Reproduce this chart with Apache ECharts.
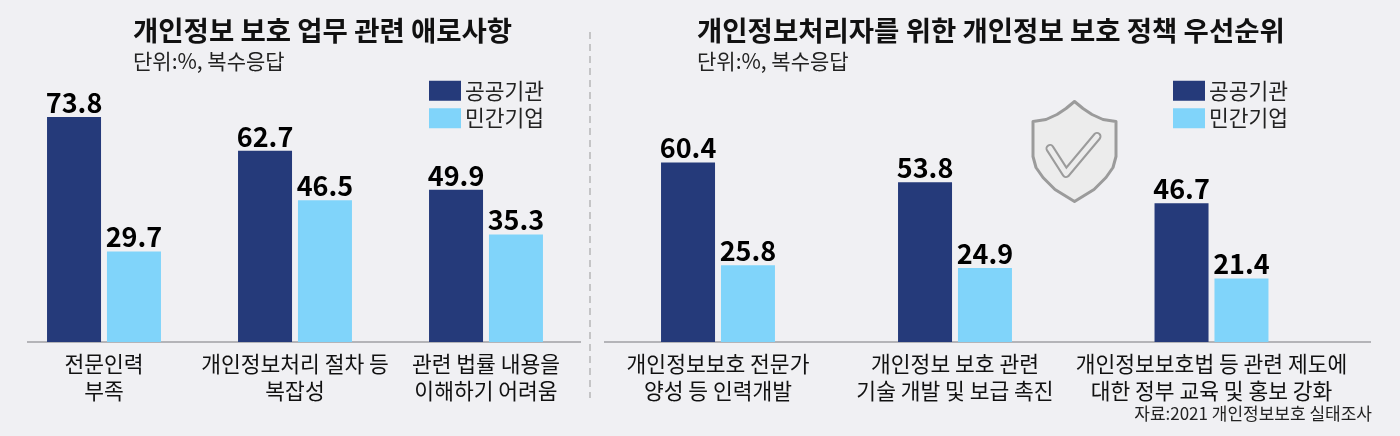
<!DOCTYPE html>
<html>
<head>
<meta charset="utf-8">
<script src="https://cdn.jsdelivr.net/npm/echarts@6/dist/echarts.min.js"></script>
<style>
html,body{margin:0;padding:0;background:#f0f0f3}
#chart{width:1400px;height:436px}
</style>
</head>
<body>
<div id="chart"></div>
<script>
var seriesNames = ['공공기관', '민간기업'];

var leftTitle = '개인정보 보호 업무 관련 애로사항';
var leftCategories = ['전문인력\n부족', '개인정보처리 절차 등\n복잡성', '관련 법률 내용을\n이해하기 어려움'];
var leftPublic = [73.8, 62.7, 49.9];
var leftPrivate = [29.7, 46.5, 35.3];

var rightTitle = '개인정보처리자를 위한 개인정보 보호 정책 우선순위';
var rightCategories = ['개인정보보호 전문가\n양성 등 인력개발', '개인정보 보호 관련\n기술 개발 및 보급 촉진', '개인정보보호법 등 관련 제도에\n대한 정부 교육 및 홍보 강화'];
var rightPublic = [60.4, 53.8, 46.7];
var rightPrivate = [25.8, 24.9, 21.4];

var unitText = '단위:%, 복수응답';
var sourceText = '자료:2021 개인정보보호 실태조사';

var FONT = '"Noto Sans CJK KR", sans-serif';
var colors = ['#253a7a', '#80d4fa'];
var baseY = 342, groupW = 190;

var grids = [], xAxes = [], yAxes = [], series = [];

function addGroup(center, category, a, b, yMax) {
  var i = grids.length;
  grids.push({left: center - groupW / 2, width: groupW, top: 42, height: baseY - 42});
  xAxes.push({
    type: 'category', gridIndex: i, data: [category],
    axisLine: {show: false}, axisTick: {show: false},
    axisLabel: {interval: 0, color: '#111', fontFamily: FONT, fontSize: 21.5, lineHeight: 27, margin: 8}
  });
  yAxes.push({type: 'value', gridIndex: i, min: 0, max: yMax, show: false, splitLine: {show: false}});
  [a, b].forEach(function (v, k) {
    series.push({
      name: seriesNames[k], type: 'bar', xAxisIndex: i, yAxisIndex: i,
      data: [v], barWidth: 54, barGap: '11%', itemStyle: {color: colors[k]},
      label: {show: true, position: 'top', distance: 1, color: '#000', fontFamily: FONT, fontSize: 27, fontWeight: 'bold', letterSpacing: -2, formatter: function (p) { return p.value.toFixed(1); }}
    });
  });
}

// 왼쪽은 간격이 일정, 오른쪽은 원본처럼 간격이 다름
var leftCenters = [104, 295, 486];
var rightCenters = [718, 955, 1211.5];
leftCategories.forEach(function (c, i) { addGroup(leftCenters[i], c, leftPublic[i], leftPrivate[i], 98.4); });
rightCategories.forEach(function (c, i) { addGroup(rightCenters[i], c, rightPublic[i], rightPrivate[i], 101); });

function legendAt(x) {
  return {
    data: seriesNames, left: x, top: 80, padding: 0, orient: 'vertical', icon: 'rect',
    itemWidth: 32, itemHeight: 20, itemGap: 6, selectedMode: false,
    textStyle: {color: '#222', fontFamily: FONT, fontSize: 21.5, lineHeight: 20, padding: [0, 0, 0, -1]}
  };
}

var titleStyle = {color: '#111', fontFamily: FONT, fontSize: 27.5, fontWeight: 'bold'};
var subStyle = {color: '#222', fontFamily: FONT, fontSize: 21, fontWeight: 'normal'};

var shieldPoints = [[41.5, 0], [33, 7], [24, 13], [13, 18], [0, 20], [0, 55], [3, 66], [10, 76], [22, 88], [41.5, 100],
  [61, 88], [73, 76], [80, 66], [83, 55], [83, 20], [70, 18], [59, 13], [50, 7]];
var checkPoints = [[17, 47], [33, 72], [64, 35]];

var option = {
  backgroundColor: '#f0f0f3',
  animation: false,
  title: [
    {text: leftTitle, left: 133, top: 17, padding: 0, textStyle: titleStyle},
    {text: unitText, left: 133, top: 51, padding: 0, textStyle: subStyle},
    {text: rightTitle, left: 697, top: 17, padding: 0, textStyle: titleStyle},
    {text: unitText, left: 697, top: 51, padding: 0, textStyle: subStyle},
    {text: sourceText, right: 28, top: 405, padding: 0, textStyle: {color: '#222', fontFamily: FONT, fontSize: 17, fontWeight: 'normal'}}
  ],
  legend: [legendAt(429), legendAt(1173)],
  grid: grids, xAxis: xAxes, yAxis: yAxes, series: series,
  graphic: [
    {type: 'line', shape: {x1: 27, y1: baseY, x2: 581, y2: baseY}, style: {stroke: '#b4b4b8', lineWidth: 2}},
    {type: 'line', shape: {x1: 604, y1: baseY, x2: 1371, y2: baseY}, style: {stroke: '#b4b4b8', lineWidth: 2}},
    {type: 'line', shape: {x1: 590, y1: 32, x2: 590, y2: 398}, style: {stroke: '#999', lineWidth: 1, lineDash: [7, 5]}},
    // 방패 아이콘
    {type: 'group', x: 1033, y: 101.5, children: [
      {type: 'polygon', shape: {points: shieldPoints}, style: {fill: '#ececec', stroke: '#9b9b9b', lineWidth: 3, lineJoin: 'round'}},
      {type: 'polyline', shape: {points: checkPoints}, style: {fill: null, stroke: '#9b9b9b', lineWidth: 9, lineCap: 'round', lineJoin: 'round'}},
      {type: 'polyline', shape: {points: checkPoints}, style: {fill: null, stroke: '#ececec', lineWidth: 5, lineCap: 'round', lineJoin: 'round'}}
    ]}
  ]
};

var chart = echarts.init(document.getElementById('chart'), null, {renderer: 'canvas'});
chart.setOption(option);
</script>
</body>
</html>
